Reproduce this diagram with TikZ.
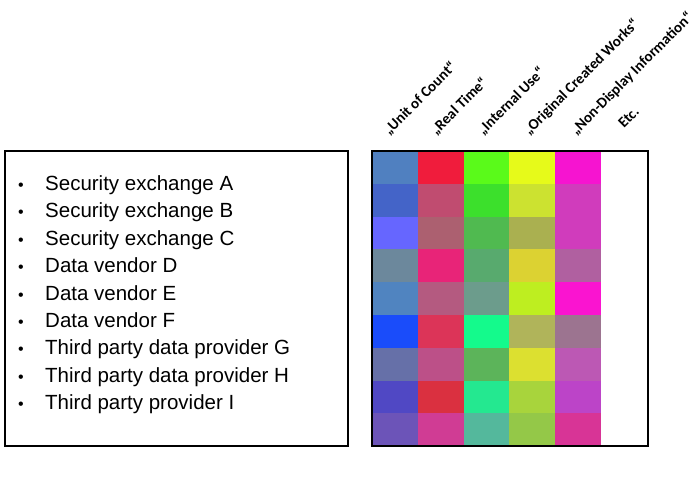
\documentclass[tikz,border=0pt]{standalone}
\usepackage{fontspec}
\setmainfont{Liberation Sans}
\newfontfamily\headfont{Carlito}
\usepackage{xcolor}
\usepackage{tikz}

\begin{document}
\begin{tikzpicture}[x=1pt, y=-1pt]
    \tikzstyle{source} = [anchor=base west, inner sep=0pt, font=\fontsize{20.5}{24}\selectfont]
    \tikzstyle{dot} = [anchor=base, inner sep=0pt, font=\fontsize{16}{20}\selectfont]
    \tikzstyle{head} = [anchor=base west, rotate=45, inner sep=0pt, font=\headfont\bfseries\fontsize{15}{18}\selectfont]
    \useasboundingbox (0,0) rectangle (700,485);

    % Sources
    \draw [line width=1.3pt] (5,151) rectangle (348,446);
    \foreach \name [count=\i] in {Security exchange A, Security exchange B, Security exchange C,
        Data vendor D, Data vendor E, Data vendor F, Third party data provider G,
        Third party data provider H, Third party provider I} {
        \node [dot] at (21,{163+27.4*\i}) {\textbullet};
        \node [source] (src\i) at (45,{163+27.4*\i}) {\name};
    }

    % Licence matrix
    \foreach \row [count=\r] in {
        {5080C0,F01C3C,5AFA1A,E6FA1A,F614D0},
        {4464C8,C04C70,3CE02C,CCE230,D03CBC},
        {6666FF,AC6070,50BA50,AAB050,D03CBC},
        {6C889C,E82478,58AA6E,DCD232,B060A0},
        {5084C0,B45A80,6C9C8C,BEEE20,FA14D0},
        {1A4CFA,DC3458,14FA8C,B0B45A,9C7490},
        {6670A8,BC5088,5CB45A,DCE030,BC58B4},
        {5048C4,DA3040,24E890,A8D43C,BC44C8},
        {6C54B8,D03C94,54B89C,94C848,D83496}} {
        \foreach \hex [count=\c] in \row {
            \definecolor{cell}{HTML}{\hex}
            \fill [cell] ({372+45.8*(\c-1)},{151+32.8*(\r-1)}) rectangle ({372+45.8*\c},{151+32.8*\r});
        }
    }
    \draw [line width=1.3pt] (372,151) rectangle (648,446);

    % Licence types
    \node [head] (unit) at (389,136) {„Unit of Count“};
    \node [head] (real) at (436,136) {„Real Time“};
    \node [head] (internal) at (483,136) {„Internal Use“};
    \node [head] (original) at (529,136) {„Original Created Works“};
    \node [head] (nondisplay) at (576,136) {„Non-Display Information“};
    \node [head] (etc) at (624,129) {Etc.};
\end{tikzpicture}
\end{document}
